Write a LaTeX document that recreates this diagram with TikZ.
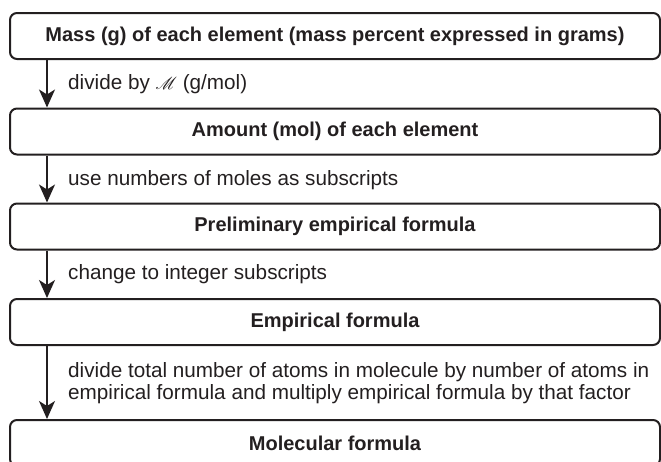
\documentclass[tikz,border=0pt]{standalone}
\usepackage{fontspec}
\setmainfont{Liberation Sans}
\usepackage{mathrsfs}
\usetikzlibrary{arrows.meta, positioning, calc}

\definecolor{ink}{RGB}{35,31,32}

\begin{document}
\begin{tikzpicture}[x=1pt, y=1pt, >={Stealth[length=18pt, width=16pt, inset=5pt]},
  stage/.style={draw=ink, text=ink, line width=2pt, rounded corners=7pt, minimum width=650pt,
    minimum height=46pt, inner sep=0pt, font=\fontsize{20}{22}\selectfont\bfseries},
  note/.style={anchor=west, align=left, inner sep=0pt, text=ink, font=\fontsize{20.7}{21.5}\selectfont},
  flow/.style={->, draw=ink, line width=1.7pt}]
  \useasboundingbox (0,0) rectangle (661,-461);
  % Stages
  \node[stage] (mass) at (335,-36) {Mass (g) of each element (mass percent expressed in grams)};
  \node[stage] (amount) at (335,-131.5) {Amount (mol) of each element};
  \node[stage] (prelim) at (335,-226.5) {Preliminary empirical formula};
  \node[stage] (empirical) at (335,-322) {Empirical formula};
  \node[stage] (molecular) at (335,-443) {Molecular formula};
  % Arrows between stages
  \draw[flow] ([xshift=38pt]mass.south west) -- ([xshift=38pt]amount.north west);
  \draw[flow] ([xshift=38pt]amount.south west) -- ([xshift=38pt]prelim.north west);
  \draw[flow] ([xshift=38pt]prelim.south west) -- ([xshift=38pt]empirical.north west);
  \draw[flow] ([xshift=38pt]empirical.south west) -- ([xshift=38pt]molecular.north west);
  % Step notes
  \node[note] (divide) at (68,-84) {divide by {\fontsize{17}{20}\selectfont$\mathscr{M}$} (g/mol)};
  \node[note] (moles) at (68,-180) {use numbers of moles as subscripts};
  \node[note] (integer) at (68,-274) {change to integer subscripts};
  \node[note] (factor) at (68,-383) {divide total number of atoms in molecule by number of atoms in\\
    empirical formula and multiply empirical formula by that factor};
\end{tikzpicture}
\end{document}
